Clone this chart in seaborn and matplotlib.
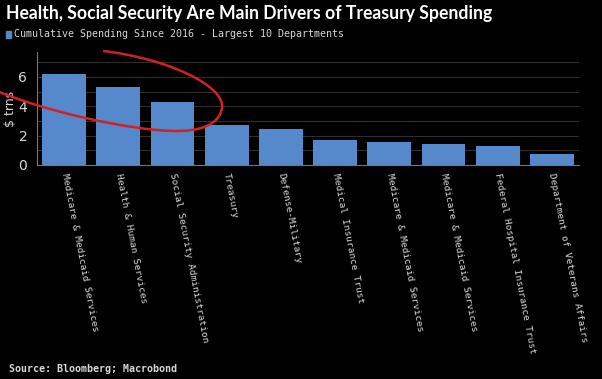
import matplotlib
matplotlib.use("Agg")
import matplotlib.pyplot as plt
from matplotlib.patches import Rectangle, PathPatch
from matplotlib.path import Path
import seaborn as sns
import pandas as pd

# Données (billions $)
departments = [
    "Medicare & Medicaid Services",
    "Health & Human Services",
    "Social Security Administration",
    "Treasury",
    "Defense-Military",
    "Medical Insurance Trust",
    "Medicare & Medicaid Services",
    "Medicare & Medicaid Services",
    "Federal Hospital Insurance Trust",
    "Department of Veterans Affairs",
]
spending = [6.2, 5.3, 4.28, 2.75, 2.48, 1.72, 1.56, 1.4, 1.27, 0.77]
y_ticks = [0, 2, 4, 6]

title = "Health, Social Security Are Main Drivers of Treasury Spending"
subtitle = "Cumulative Spending Since 2016 - Largest 10 Departments"
source = "Source: Bloomberg; Macrobond"

bar_color = "#5689cc"
text_color = "#d8d8d8"
W, H = 602, 379

# position unique pour chaque barre (noms en double)
df = pd.DataFrame({"pos": range(len(departments)), "spending": spending})

sns.set_style("dark")
plt.rcParams["font.family"] = ["DejaVu Sans"]

fig = plt.figure(figsize=(W / 100, H / 100), dpi=100, facecolor="black")
ax = fig.add_axes([37 / W, 1 - 165 / H, (579 - 37) / W, (165 - 52) / H])
ax.set_facecolor("black")
ax.set_axisbelow(True)

sns.barplot(data=df, x="pos", y="spending", color=bar_color, width=0.81,
            saturation=1, linewidth=0, edgecolor="none", ax=ax)

ax.set_xlim(-0.5, len(departments) - 0.5)
ax.set_ylim(0, 7.7)
ax.set_yticks(y_ticks)
ax.set_yticks([1, 3, 5, 7], minor=True)
ax.grid(True, which="both", axis="y", color="#2e2e2e", linewidth=0.8)
ax.grid(False, axis="x")

ax.set_xticks(range(len(departments)))
ax.set_xticklabels(departments, rotation=-79, rotation_mode="anchor",
                   ha="left", va="center", family="DejaVu Sans Mono",
                   fontsize=6.8, color=text_color)
ax.tick_params(axis="x", which="major", length=0, pad=6)
ax.set_xticks([i + 0.5 for i in range(len(departments) - 1)], minor=True)
ax.tick_params(axis="x", which="minor", length=4, color="#777777", width=0.8)
ax.tick_params(axis="y", which="major", labelsize=10, labelcolor=text_color,
               length=3, color="#777777", pad=4)
ax.tick_params(axis="y", which="minor", length=0)

ax.set_xlabel("")
ax.set_ylabel("$ trns", color=text_color, fontsize=9, labelpad=1)

for side in ["top", "right"]:
    ax.spines[side].set_visible(False)
for side in ["left", "bottom"]:
    ax.spines[side].set_visible(True)
    ax.spines[side].set_color("#777777")
    ax.spines[side].set_linewidth(0.8)
    ax.spines[side].set_zorder(4)

fig.text(6 / W, 1 - 13 / H, title, color="white", fontsize=12.7,
         fontweight="bold", family="Lato", ha="left", va="center")
fig.patches.append(Rectangle((6 / W, 1 - 38 / H), 5 / W, 7 / H,
                             transform=fig.transFigure, color=bar_color,
                             figure=fig))
fig.text(14 / W, 1 - 34 / H, subtitle, color=text_color, fontsize=7.2,
         family="DejaVu Sans Mono", ha="left", va="center")
fig.text(9 / W, 1 - 369 / H, source, color=text_color, fontsize=7.2,
         family="DejaVu Sans Mono", fontweight="bold", ha="left", va="center")

# annotation rouge à main levée (pixels, y vers le bas)
ov = fig.add_axes([0, 0, 1, 1], facecolor="none")
ov.set_xlim(0, W)
ov.set_ylim(H, 0)
ov.axis("off")
loop = Path(
    [(103, 51), (165, 58), (225, 85), (222, 108),
     (219, 125), (200, 131), (177, 131),
     (130, 131), (40, 110), (-5, 90)],
    [Path.MOVETO] + [Path.CURVE4] * 9,
)
ov.add_patch(PathPatch(loop, facecolor="none", edgecolor="#d42020",
                       linewidth=1.8))

fig.savefig("out.png", dpi=100, facecolor="black")
